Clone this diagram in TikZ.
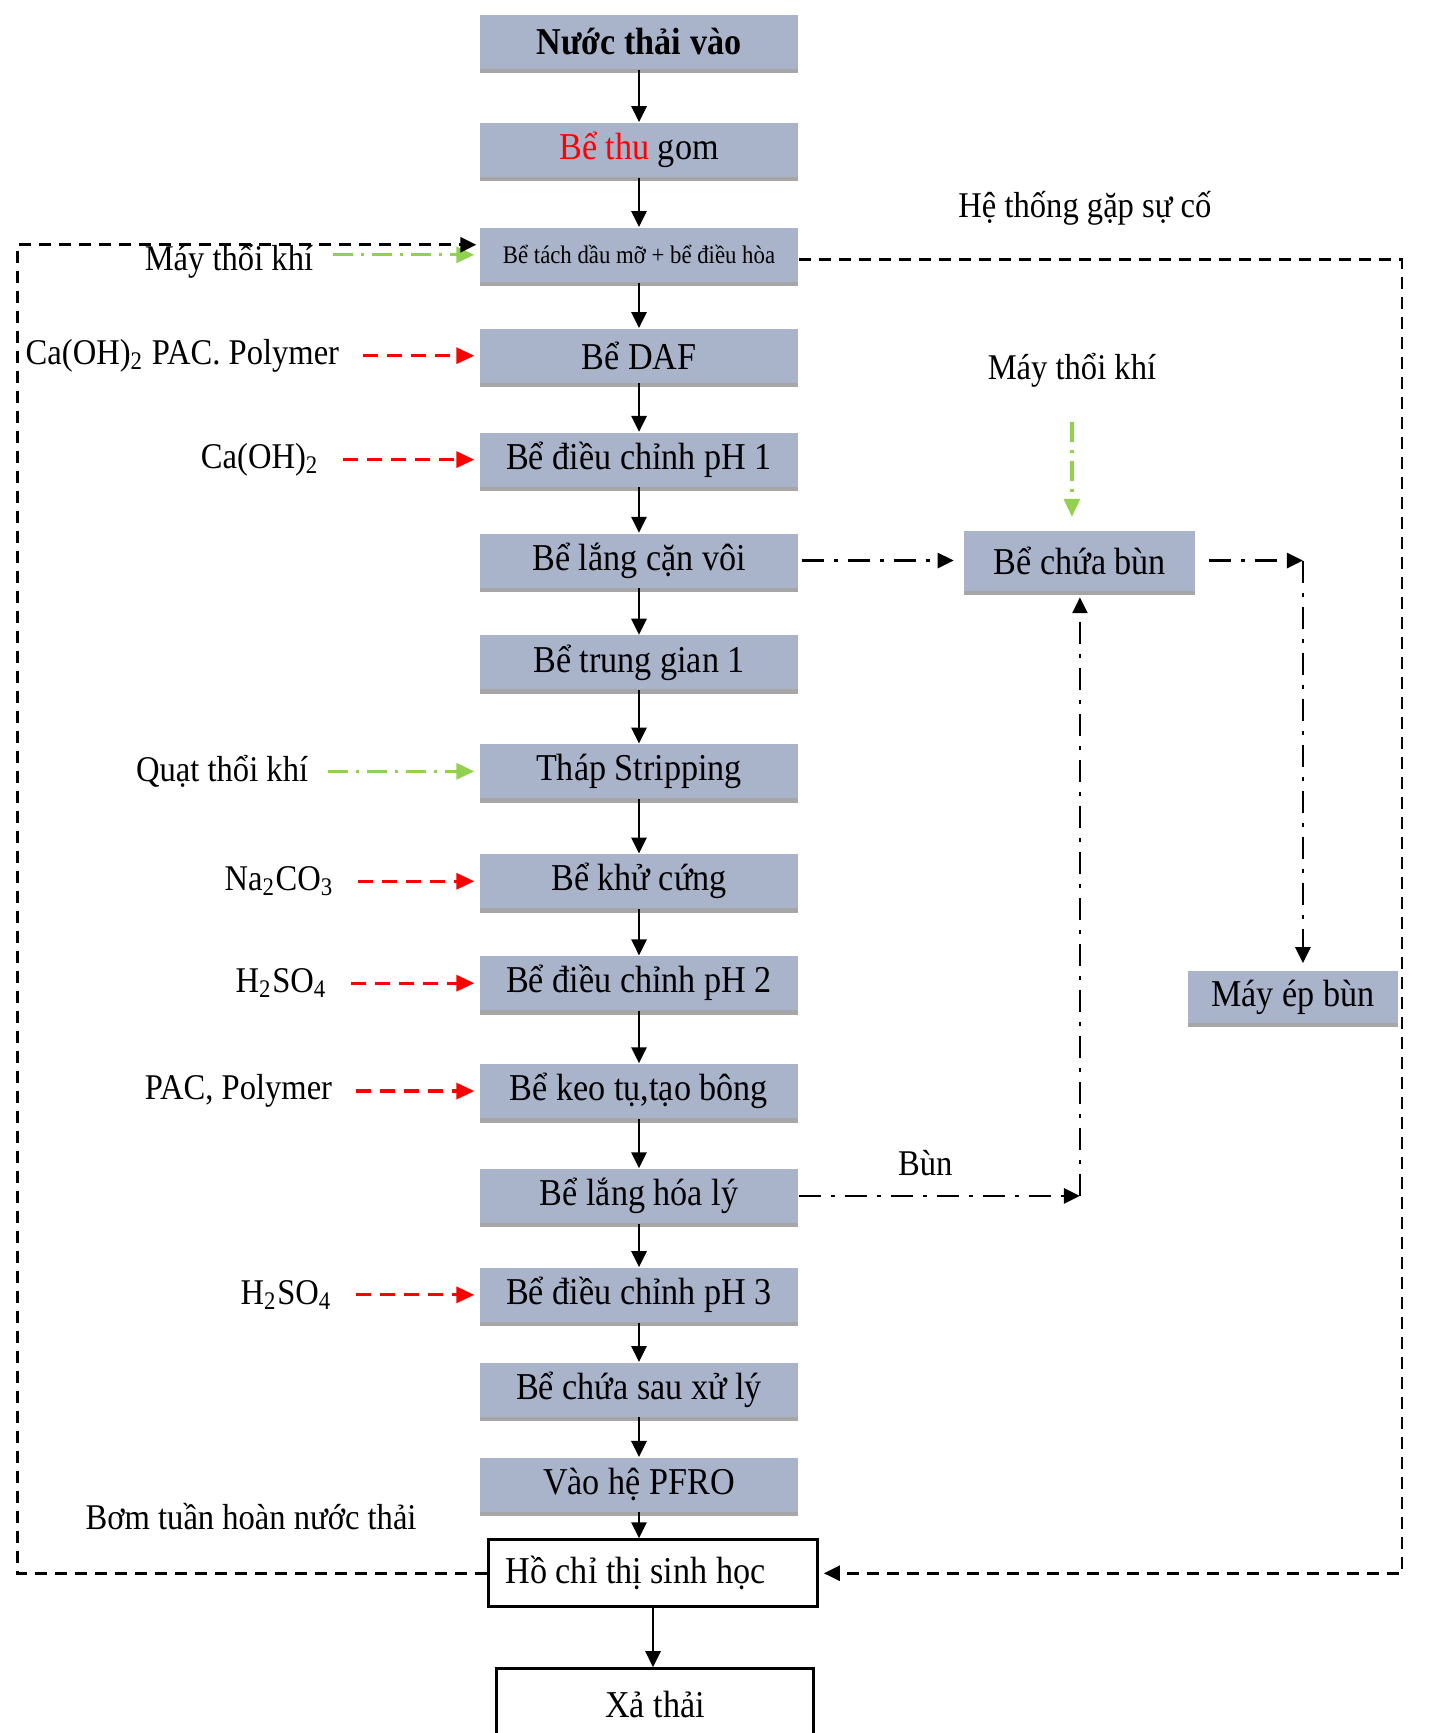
\documentclass[tikz,border=0pt]{standalone}
\usepackage{fontspec}
\setmainfont{Liberation Serif}[FakeStretch=0.9]
\usepackage{xcolor}
\usepackage{tikz}
\usetikzlibrary{arrows.meta,positioning,shadows}

\definecolor{tankblue}{RGB}{169,180,203}
\definecolor{airgreen}{RGB}{146,208,80}

\begin{document}
\begin{tikzpicture}[
  node distance=0.45cm and 1.5cm,
  tank/.style={rectangle, fill=tankblue, minimum width=3.18cm, minimum height=0.54cm,
    inner sep=1pt, align=center, font=\fontsize{10.8}{12}\selectfont,
    drop shadow={shadow xshift=0pt, shadow yshift=-0.45mm, fill=black!35, opacity=1}},
  plain/.style={rectangle, draw=black, line width=0.8pt, fill=white,
    minimum height=0.67cm, inner sep=1pt, font=\fontsize{10.8}{12}\selectfont},
  lbl/.style={inner sep=1pt, font=\fontsize{10.3}{12}\selectfont},
  arr/.style={-{Triangle[length=1.6mm,width=1.5mm]}, line width=0.8pt},
  chem/.style={-{Triangle[length=1.8mm,width=1.6mm]}, draw=red, line width=0.9pt,
    dash pattern=on 1.5mm off 0.9mm, shorten <=2mm, shorten >=0.5mm},
  air/.style={-{Triangle[length=1.8mm,width=1.6mm]}, draw=airgreen, line width=0.9pt,
    dash pattern=on 2mm off 0.8mm on 0.3mm off 0.8mm, shorten <=1.6mm, shorten >=0.5mm},
  sludge/.style={-{Triangle[length=1.6mm,width=1.5mm]}, line width=0.8pt,
    dash pattern=on 2.2mm off 1mm on 0.4mm off 1mm},
  emerg/.style={-{Triangle[length=1.6mm,width=1.5mm]}, line width=0.8pt,
    dash pattern=on 1.2mm off 0.8mm}
]
  \useasboundingbox (0,0) rectangle (14.33,-17.33);

  % main treatment line
  \node[tank] (nuoc) at (6.39,-0.42) {\textbf{Nước thải vào}};
  \node[tank, below=0.525cm of nuoc] (thugom) {{\color{red}Bể thu} gom};
  \node[tank, below=0.495cm of thugom, font=\fontsize{7.2}{9}\selectfont] (tachdau) {Bể tách dầu mỡ + bể điều hòa};
  \node[tank, below=0.455cm of tachdau] (daf) {Bể DAF};
  \node[tank, below=0.485cm of daf] (ph1) {Bể điều chỉnh pH 1};
  \node[tank, below=0.455cm of ph1] (langvoi) {Bể lắng cặn vôi};
  \node[tank, below=0.465cm of langvoi] (trunggian) {Bể trung gian 1};
  \node[tank, below=0.535cm of trunggian] (strip) {Tháp Stripping};
  \node[tank, below=0.545cm of strip] (khucung) {Bể khử cứng};
  \node[tank, below=0.465cm of khucung] (ph2) {Bể điều chỉnh pH 2};
  \node[tank, below=0.525cm of ph2] (keotu) {Bể keo tụ,tạo bông};
  \node[tank, below=0.495cm of keotu] (langhl) {Bể lắng hóa lý};
  \node[tank, below=0.435cm of langhl] (ph3) {Bể điều chỉnh pH 3};
  \node[tank, below=0.395cm of ph3] (chuasau) {Bể chứa sau xử lý};
  \node[tank, below=0.395cm of chuasau] (pfro) {Vào hệ PFRO};
  \node[plain, below=0.26cm of pfro, xshift=0.14cm, inner xsep=0.17cm]
    (ho) {\makebox[2.95cm][l]{Hồ chỉ thị sinh học}};
  \node[plain, below=0.59cm of ho, xshift=0.02cm, minimum width=3.17cm,
    minimum height=0.72cm] (xathai) {Xả thải};

  % sludge line
  \node[tank, right=1.65cm of langvoi, minimum width=2.31cm, minimum height=0.60cm] (chuabun) {Bể chứa bùn};
  \node[tank, below=3.79cm of chuabun, xshift=2.13cm, minimum width=2.10cm,
    minimum height=0.52cm] (epbun) {Máy ép bùn};

  % dosing and air labels
  \node[lbl, left=1.62cm of tachdau, yshift=-0.06cm] (may1) {Máy thổi khí};
  \node[lbl, left=1.36cm of daf] (chem1) {Ca(OH)\textsubscript{2} PAC. Polymer};
  \node[lbl, left=1.56cm of ph1] (chem2) {Ca(OH)\textsubscript{2}};
  \node[lbl, left=1.67cm of strip] (quat) {Quạt thổi khí};
  \node[lbl, left=1.41cm of khucung] (chem3) {Na\textsubscript{2}CO\textsubscript{3}};
  \node[lbl, left=1.48cm of ph2] (chem4) {H\textsubscript{2}SO\textsubscript{4}};
  \node[lbl, left=1.43cm of keotu] (chem5) {PAC, Polymer};
  \node[lbl, left=1.43cm of ph3] (chem6) {H\textsubscript{2}SO\textsubscript{4}};
  \node[lbl, above=1.38cm of chuabun, xshift=-0.08cm] (may2) {Máy thổi khí};
  \node[lbl, above=1.2cm of may2, xshift=0.13cm] (suco) {Hệ thống gặp sự cố};
  \node[lbl] (bom) at ([xshift=-2.36cm, yshift=0.57cm]ho.west) {Bơm tuần hoàn nước thải};

  \coordinate (eR) at ([xshift=5.83cm]ho.east);
  \coordinate (eL) at ([xshift=-4.62cm, yshift=1mm]tachdau.west);
  \coordinate (epin) at ([xshift=1mm]epbun.north);
  \coordinate (c1) at (epin |- chuabun.east);
  \coordinate (c2) at (chuabun.south |- langhl.east);

  \draw[arr] (nuoc) -- (thugom);
  \draw[arr] (thugom) -- (tachdau);
  \draw[arr] (tachdau) -- (daf);
  \draw[arr] (daf) -- (ph1);
  \draw[arr] (ph1) -- (langvoi);
  \draw[arr] (langvoi) -- (trunggian);
  \draw[arr] (trunggian) -- (strip);
  \draw[arr] (strip) -- (khucung);
  \draw[arr] (khucung) -- (ph2);
  \draw[arr] (ph2) -- (keotu);
  \draw[arr] (keotu) -- (langhl);
  \draw[arr] (langhl) -- (ph3);
  \draw[arr] (ph3) -- (chuasau);
  \draw[arr] (chuasau) -- (pfro);
  \draw[arr] (pfro) -- (pfro |- ho.north);
  \draw[arr] (ho) -- (ho |- xathai.north);

  \draw[chem] (chem1) -- (daf);
  \draw[chem] (chem2) -- (ph1);
  \draw[chem] (chem3) -- (khucung);
  \draw[chem] (chem4) -- (ph2);
  \draw[chem] (chem5) -- (keotu);
  \draw[chem] (chem6) -- (ph3);

  \draw[air] (may1.east |- tachdau) -- (tachdau);
  \draw[air] (quat) -- (strip);
  \draw[air, shorten <=3mm, shorten >=1.3mm] (may2) -- (may2 |- chuabun.north);

  \draw[sludge, shorten <=0.3mm, shorten >=1mm] (langvoi) -- (chuabun);
  \draw[sludge, shorten <=1.3mm] (chuabun) -- (c1);
  \draw[sludge, shorten >=0.7mm] (c1) -- (epin);
  \draw[sludge] (langhl) -- (c2) node[lbl, above=1.5mm, pos=0.45] (bun) {Bùn};
  \draw[sludge, shorten >=0.6mm] (c2) -- (chuabun);

  \draw[emerg, shorten >=0.5mm] ([yshift=-0.5mm]tachdau.east) -| (eR) -- (ho.east);
  \draw[emerg, shorten >=0.3mm] (ho.west) -| (eL) -- ([yshift=1mm]tachdau.west);
\end{tikzpicture}
\end{document}
